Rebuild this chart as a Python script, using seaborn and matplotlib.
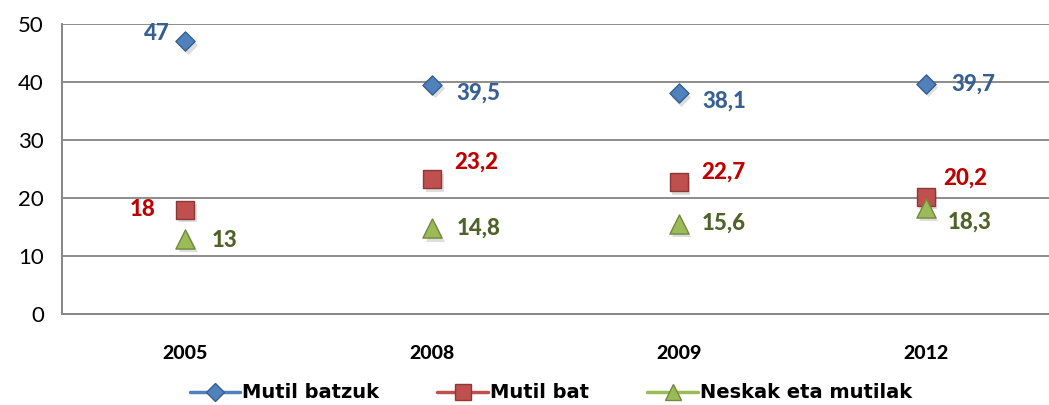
import numpy as np
import pandas as pd
import matplotlib
matplotlib.use("Agg")
import matplotlib.pyplot as plt
from matplotlib.lines import Line2D
import seaborn as sns

# --- data ---
years = ["2005", "2008", "2009", "2012"]
mutil_batzuk = [47, 39.5, 38.1, 39.7]
mutil_bat = [18, 23.2, 22.7, 20.2]
neskak_mutilak = [13, 14.8, 15.6, 18.3]
series_names = ["Mutil batzuk", "Mutil bat", "Neskak eta mutilak"]

# --- style ---
sns.set_style("white")
plt.rcParams["font.family"] = ["Lato", "DejaVu Sans"]

face = {"Mutil batzuk": "#4F81BD", "Mutil bat": "#C0504D", "Neskak eta mutilak": "#9BBB59"}
edge = {"Mutil batzuk": "#385D8A", "Mutil bat": "#8C3836", "Neskak eta mutilak": "#71893F"}
text_col = {"Mutil batzuk": "#376092", "Mutil bat": "#C00000", "Neskak eta mutilak": "#4F6228"}
markers = {"Mutil batzuk": "D", "Mutil bat": "s", "Neskak eta mutilak": "^"}
sizes = {"Mutil batzuk": 95, "Mutil bat": 150, "Neskak eta mutilak": 190}

# label offsets in pixels (dx, dy), per series, per year
offsets = {
    "Mutil batzuk": [(-28, 8), (46, -8), (45, -8), (48, 0)],
    "Mutil bat": [(-43, 0), (44, 17), (44, 10), (40, 19)],
    "Neskak eta mutilak": [(39, -2), (47, 0), (45, 0), (44, -14)],
}

df = pd.DataFrame({
    "year": years * 3,
    "value": mutil_batzuk + mutil_bat + neskak_mutilak,
    "series": np.repeat(series_names, len(years)),
})
df["pos"] = df["year"].map({y: i for i, y in enumerate(years)})

fig = plt.figure(figsize=(10.49, 4.05), dpi=100)
ax = fig.add_axes([62 / 1049, 91 / 405, 987 / 1049, 290 / 405])

for name in series_names:
    sub = df[df["series"] == name]
    # soft shadow under markers
    ax.scatter(sub["pos"] + 0.01, sub["value"] - 0.6, marker=markers[name],
               s=sizes[name], color="#000000", alpha=0.13, linewidths=0, zorder=3)
    sns.scatterplot(data=sub, x="pos", y="value", marker=markers[name], s=sizes[name],
                    color=face[name], edgecolor=edge[name], linewidth=1.0,
                    legend=False, ax=ax, zorder=4)
    for (i, row), (dx, dy) in zip(sub.reset_index(drop=True).iterrows(), offsets[name]):
        lbl = f"{row['value']:g}".replace(".", ",")
        ax.annotate(lbl, (row["pos"], row["value"]), xytext=(dx, dy),
                    textcoords="offset pixels", ha="center", va="center",
                    fontsize=16, fontweight="black", color=text_col[name], zorder=5)

ax.set_ylim(0, 50)
ax.set_yticks(range(0, 51, 10))
ax.set_xlim(-0.5, -0.5 + 987 / 249)
ax.set_xticks(range(len(years)))
ax.set_xticklabels(years, fontsize=14, fontweight="black", color="black")
ax.set_xticks(np.arange(-0.5, 4.0, 1.0), minor=True)
ax.tick_params(axis="x", which="major", length=0, pad=22)
ax.tick_params(axis="x", which="minor", length=6, width=1.2, color="#868686", direction="out")
ax.tick_params(axis="y", length=6, width=1.2, color="#868686", direction="out",
               labelsize=16, labelcolor="black", pad=7)
ax.set_xlabel("")
ax.set_ylabel("")
ax.yaxis.grid(True, color="#8C8C8C", linewidth=1.4)
ax.set_axisbelow(True)
for s in ["top", "right"]:
    ax.spines[s].set_visible(False)
for s in ["left", "bottom"]:
    ax.spines[s].set_color("#868686")
    ax.spines[s].set_linewidth(1.4)

handles = [
    Line2D([0], [0], color=face[n], lw=2.5, marker=markers[n],
           markersize=11 if n != "Mutil batzuk" else 9,
           markerfacecolor=face[n], markeredgecolor=edge[n])
    for n in series_names
]
fig.legend(handles, series_names, loc="center", bbox_to_anchor=(0.525, 0.03), ncol=3, frameon=False,
           prop={"family": "DejaVu Sans", "weight": "bold", "size": 14}, labelcolor="black",
           handlelength=2.6, columnspacing=3.0, handletextpad=0.1)

fig.savefig("out.png", dpi=100)
